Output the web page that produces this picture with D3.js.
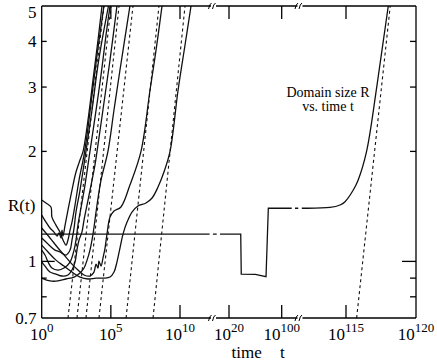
<!DOCTYPE html>
<html>
<head>
<meta http-equiv="Content-Type" content="text/html;charset=utf-8">
<script src="https://d3js.org/d3.v7.min.js"></script>
<style>
body { margin: 0; background: #fff; }
text { font-family: "Liberation Serif", "Times New Roman", serif; fill: #000; }
</style>
</head>
<body>
<svg id="chart" width="437" height="362"></svg>
<script type="text/javascript">

// x values are exponents e of t = 10^e, y values are R
var yTicks = [0.7, 0.8, 0.9, 1, 2, 3, 4, 5];
var yLabels = [0.7, 1, 2, 3, 4, 5];
var xLabels = [0, 5, 10, 20, 100, 115, 120];
var xBreaks = [12.4, 111.7];

var run1 = [[0,1.339],[0.31,1.281],[0.60,1.234],[0.89,1.203],[1.11,1.173],[1.25,1.196],[1.40,1.159],[1.47,1.218],[1.54,1.173],[1.69,1.257],[1.90,1.382],[2.19,1.568],[2.48,1.757],[2.77,1.894],[2.99,2.00],[3.35,2.44],[3.71,3.14],[4.07,4.03],[4.36,5.00]];
var run2 = [[0,1.472],[0.31,1.445],[0.67,1.409],[0.74,1.322],[1.03,1.257],[1.32,1.203],[1.54,1.144],[1.76,1.108],[1.90,1.144],[2.05,1.218],[2.19,1.281],[2.41,1.427],[2.70,1.670],[3.06,1.955],[3.28,2.22],[3.64,2.85],[4.00,3.67],[4.50,5.00]];
var run3 = [[0,1.159],[0.31,1.130],[0.60,1.102],[0.96,1.074],[1.32,1.061],[1.76,1.041],[2.05,1.074],[2.19,1.144],[2.34,1.234],[2.48,1.365],[2.77,1.568],[3.20,2.00],[3.64,2.60],[4.07,3.45],[4.43,4.16],[4.83,5.00]];
var run4 = [[0,1.074],[0.24,1.041],[0.46,0.996],[0.74,0.959],[1.18,0.947],[1.61,0.959],[2.05,0.996],[2.34,1.074],[2.48,1.144],[2.62,1.257],[2.84,1.400],[3.13,1.618],[3.49,2.00],[3.85,2.47],[4.29,3.24],[4.65,4.16],[4.94,5.00]];
var run5 = [[0,0.996],[0.24,0.971],[0.60,0.935],[1.03,0.923],[1.47,0.912],[1.90,0.918],[2.19,0.947],[2.41,0.996],[2.55,1.074],[2.70,1.144],[2.91,1.203],[3.06,1.298],[3.35,1.472],[3.85,1.835],[4.00,2.00],[4.43,2.60],[4.94,3.56],[5.44,5.00]];
var run6 = [[0,0.900],[0.60,0.884],[1.18,0.884],[1.76,0.895],[2.34,0.906],[2.77,0.929],[3.06,0.959],[3.28,1.008],[3.49,1.074],[3.71,1.188],[4.00,1.427],[4.29,1.670],[4.79,2.00],[5.23,2.60],[5.66,3.34],[6.02,4.09],[6.38,5.00]];
var run7 = [[0,1.234],[0.60,1.159],[1.18,1.088],[1.69,1.034],[2.19,0.983],[2.62,0.947],[3.06,0.918],[3.49,0.912],[3.78,0.935],[3.93,0.983],[4.07,0.959],[4.14,1.002],[4.29,0.971],[4.43,1.021],[4.58,1.088],[4.72,1.188],[4.94,1.322],[5.23,1.373],[5.73,1.409],[6.38,1.618],[7.18,2.00],[7.83,2.94],[8.27,3.79],[8.70,5.00]];
var run8 = [[0,1.108],[0.46,1.061],[1.03,1.008],[1.61,0.971],[2.19,0.935],[2.77,0.906],[3.35,0.895],[3.93,0.900],[4.50,0.900],[4.94,0.906],[5.23,0.935],[5.44,0.996],[5.66,1.088],[5.88,1.188],[6.17,1.281],[6.53,1.365],[6.96,1.418],[7.54,1.445],[7.98,1.491],[8.41,1.598],[8.84,1.757],[9.28,2.00],[9.86,2.94],[10.36,3.91],[10.79,5.00]];

// the long run, drawn in pieces (interrupted at the axis breaks)
var longStep = [
  [[0,1.188],[12.12,1.188]],
  [[12.36,1.188],[13.97,1.188]],
  [[15.6,1.188],[37.8,1.188],[38.6,0.923],[60,0.921],[76.2,0.908],[79.7,1.398],[106.4,1.398]],
  [[108.5,1.398],[110.6,1.398]]
];
var longRise = [[111.83,1.398],[113.85,1.405],[114.57,1.427],[114.93,1.457],[115.52,1.568],[115.87,1.670],[116.47,2.0],[117.19,2.99],[117.66,4.0],[118.02,5.0]];

// t^(1/3) fits: exponent where the line is at R=0.7 and at R=5
var fitLow = [1.90, 2.55, 3.20, 4.14, 6.10, 8.05, 115.76];
var fitHigh = [4.50, 5.01, 5.59, 6.60, 8.48, 10.36, 118.16];

var pL = 41.7, pR = 416, pT = 6, pB = 318;

var x = d3.scaleLinear()
    .domain([0, 10, 12.4, 20, 100, 111.7, 115, 120])
    .range([pL, 180, 213.5, 229, 281.7, 300, 346, pR]);
var y = d3.scaleLog().domain([0.7, 5]).range([pB, pT]);

var svg = d3.select("#chart");

svg.append("defs").append("clipPath").attr("id", "clip")
  .append("rect").attr("x", pL).attr("y", pT)
  .attr("width", pR - pL).attr("height", pB - pT);

var plot = svg.append("g").attr("clip-path", "url(#clip)")
    .attr("fill", "none").attr("stroke", "#111");

var smooth = d3.line().x(function(d) { return x(d[0]); }).y(function(d) { return y(d[1]); })
    .curve(d3.curveCatmullRom.alpha(0.5));
var straight = d3.line().x(function(d) { return x(d[0]); }).y(function(d) { return y(d[1]); });

fitLow.forEach(function(e0, i) {
  plot.append("path")
    .attr("d", straight([[e0, 0.7], [fitHigh[i], 5]]))
    .attr("stroke-width", 1.1)
    .attr("stroke-dasharray", "3,3");
});

[run1, run2, run3, run4, run5, run6, run7, run8].forEach(function(r) {
  plot.append("path").attr("d", smooth(r)).attr("stroke-width", 1.3);
});

longStep.forEach(function(p) {
  plot.append("path").attr("d", straight(p)).attr("stroke-width", 1.3);
});
plot.append("path").attr("d", smooth(longRise)).attr("stroke-width", 1.3);

// frame, with gaps where the time axis is broken
var frame = svg.append("g").attr("stroke", "#000").attr("stroke-width", 1.3).attr("fill", "none");
frame.append("line").attr("x1", pL).attr("x2", pL).attr("y1", pT).attr("y2", pB);
frame.append("line").attr("x1", pR).attr("x2", pR).attr("y1", pT).attr("y2", pB);

var edges = [pL].concat(xBreaks.map(x)).concat([pR]);
[pT, pB].forEach(function(yy) {
  for (var i = 0; i < edges.length - 1; i++) {
    var a = i == 0 ? edges[i] : edges[i] + 2.5;
    var b = i == edges.length - 2 ? edges[i + 1] : edges[i + 1] - 2.5;
    frame.append("line").attr("x1", a).attr("x2", b).attr("y1", yy).attr("y2", yy);
  }
  xBreaks.forEach(function(bk) {
    var bx = x(bk);
    frame.append("path")
      .attr("stroke-width", 1)
      .attr("d", "M" + (bx - 5) + "," + (yy + 3) + " q1,-5 3,-6 M" + (bx - 1) + "," + (yy + 3) + " q1,-5 3,-6");
  });
});

// time ticks, top and bottom
xLabels.slice(1, -1).forEach(function(v) {
  frame.append("line").attr("x1", x(v)).attr("x2", x(v)).attr("y1", pB).attr("y2", pB - 13);
  frame.append("line").attr("x1", x(v)).attr("x2", x(v)).attr("y1", pT).attr("y2", pT + 13);
});

// R ticks, left and right
yTicks.slice(1, -1).forEach(function(v) {
  var len = v == 1 ? 13 : 5;
  frame.append("line").attr("x1", pL).attr("x2", pL + len).attr("y1", y(v)).attr("y2", y(v));
  frame.append("line").attr("x1", pR).attr("x2", pR - (v == 1 ? 14 : 6)).attr("y1", y(v)).attr("y2", y(v));
});

yLabels.forEach(function(v) {
  svg.append("text")
    .attr("x", 36.5).attr("y", Math.max(y(v), 12)).attr("dy", "0.34em")
    .attr("text-anchor", "end").attr("font-size", 17)
    .text(v);
});

xLabels.forEach(function(v) {
  var t = svg.append("text")
    .attr("x", x(v)).attr("y", 340)
    .attr("text-anchor", "middle").attr("font-size", 17);
  t.append("tspan").text("10");
  t.append("tspan").attr("dy", -8).attr("font-size", 13).text(v);
});

svg.append("text").attr("x", 8).attr("y", 211).attr("font-size", 17).text("R(t)");
svg.append("text").attr("x", 231.5).attr("y", 357.5).attr("font-size", 17).text("time");
svg.append("text").attr("x", 280).attr("y", 357.5).attr("font-size", 17).text("t");

svg.append("text").attr("x", 328).attr("y", 97).attr("text-anchor", "middle")
  .attr("font-size", 14).text("Domain size R");
svg.append("text").attr("x", 328).attr("y", 111).attr("text-anchor", "middle")
  .attr("font-size", 14).text("vs. time t");

</script>
</body>
</html>
